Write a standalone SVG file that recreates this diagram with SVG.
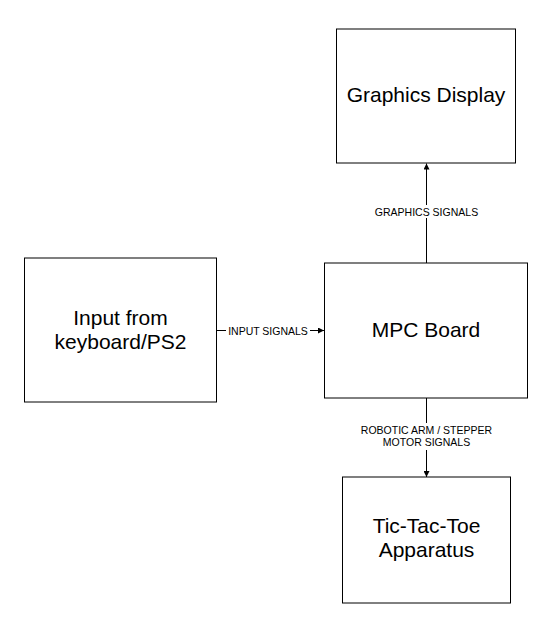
<svg xmlns="http://www.w3.org/2000/svg" width="552" height="630" viewBox="0 0 552 630">
<style>
.box{fill:#fff;stroke:#000;stroke-width:1}
.t{font-family:"Liberation Sans",Arial,sans-serif;font-size:21px;fill:#000;text-anchor:middle}
.lbl{font-family:"Liberation Sans",Arial,sans-serif;font-size:10.5px;fill:#000;text-anchor:middle}
.ln{stroke:#000;stroke-width:1;fill:none}
</style>
<defs>
<marker id="ah" viewBox="0 0 10 10" refX="10" refY="5" markerWidth="7" markerHeight="6" markerUnits="userSpaceOnUse" orient="auto">
<path d="M0,0 L10,5 L0,10 z" fill="#000"/>
</marker>
</defs>
<rect width="552" height="630" fill="#fff"/>
<g id="connectors">
<line class="ln" x1="217" y1="330.5" x2="324" y2="330.5" marker-end="url(#ah)"/>
<rect x="226" y="324" width="84" height="13" fill="#fff"/>
<text class="lbl" x="268" y="334.5">INPUT SIGNALS</text>
<line class="ln" x1="426.5" y1="263" x2="426.5" y2="163.5" marker-end="url(#ah)"/>
<rect x="372" y="205" width="108" height="13" fill="#fff"/>
<text class="lbl" x="426.5" y="216">GRAPHICS SIGNALS</text>
<line class="ln" x1="426.5" y1="398" x2="426.5" y2="477" marker-end="url(#ah)"/>
<rect x="358" y="423" width="138" height="27" fill="#fff"/>
<text class="lbl" x="426.5" y="433.5">ROBOTIC ARM / STEPPER</text>
<text class="lbl" x="426.5" y="446">MOTOR SIGNALS</text>
</g>
<g id="graphics">
<rect class="box" x="336.5" y="29" width="179" height="134"/>
<text class="t" x="426" y="102">Graphics Display</text>
</g>
<g id="input">
<rect class="box" x="24.5" y="258" width="192" height="144"/>
<text class="t" x="120.5" y="325">Input from</text>
<text class="t" x="120.5" y="349">keyboard/PS2</text>
</g>
<g id="mpc">
<rect class="box" x="324.5" y="263" width="203" height="135"/>
<text class="t" x="426" y="337">MPC Board</text>
</g>
<g id="tictactoe">
<rect class="box" x="342.5" y="477" width="168" height="126"/>
<text class="t" x="426.5" y="533">Tic-Tac-Toe</text>
<text class="t" x="426.5" y="557">Apparatus</text>
</g>
</svg>
